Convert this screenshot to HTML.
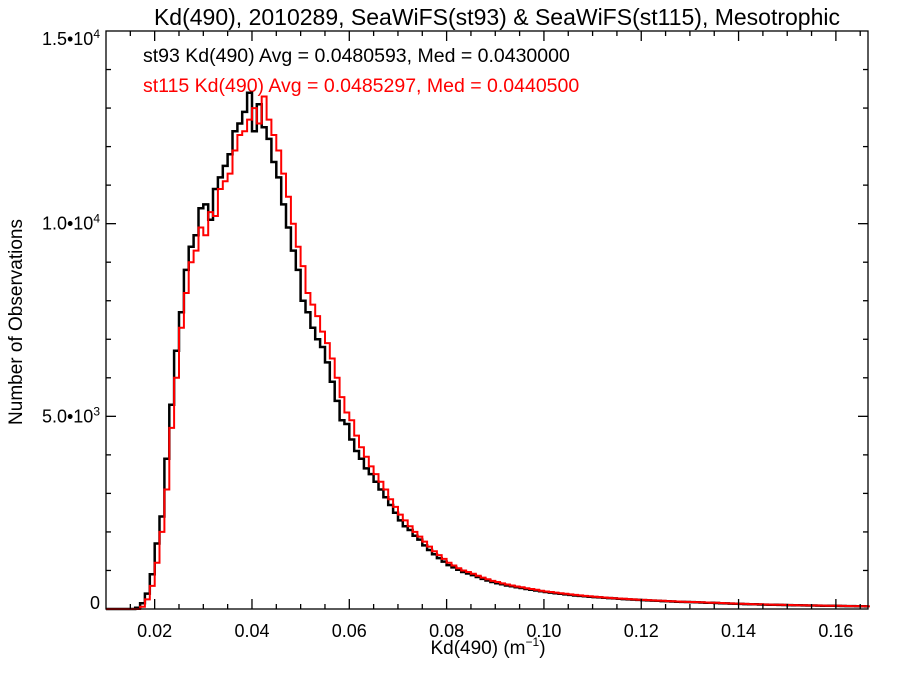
<!DOCTYPE html>
<html><head><meta charset="utf-8">
<style>
html,body{margin:0;padding:0;background:#fff;}
svg{display:block;font-family:"Liberation Sans",Helvetica,Arial,sans-serif;}
</style></head>
<body>
<svg id="chart" width="900" height="675" viewBox="0 0 900 675" xmlns="http://www.w3.org/2000/svg">
<text x="497" y="25" font-size="23" text-anchor="middle" fill="#000">Kd(490), 2010289, SeaWiFS(st93) &amp; SeaWiFS(st115), Mesotrophic</text>
<text x="143" y="62" font-size="19.5" fill="#000">st93 Kd(490) Avg = 0.0480593, Med = 0.0430000</text>
<text x="143" y="92" font-size="19.5" fill="#ff0000">st115 Kd(490) Avg = 0.0485297, Med = 0.0440500</text>
<text x="488" y="654" font-size="19" text-anchor="middle" fill="#000">Kd(490) (m<tspan font-size="12" dy="-8">−1</tspan><tspan dy="8">)</tspan></text>
<text transform="translate(22,322) rotate(-90)" font-size="19" text-anchor="middle" fill="#000">Number of Observations</text>
<g id="marks"></g>
<g id="axes"></g>
</svg>
<script>
const binStart = 0.010;
const binWidth = 0.001;
const st93Counts = [0,0,0,0,0,0,30,150,400,900,1700,2400,3900,5300,6700,7700,8800,9400,9700,10400,10500,10100,10900,11200,11500,11800,12400,12600,12900,13400,12400,13100,12500,12200,11600,11200,10500,9900,9300,8800,8000,7700,7300,7000,6800,6400,5900,5400,4900,4800,4400,4100,3900,3650,3500,3300,3100,2900,2700,2500,2300,2150,2050,1900,1800,1650,1530,1420,1320,1230,1140,1080,1020,960,920,880,830,780,740,700,670,640,610,590,565,545,520,500,480,460,440,425,410,395,380,365,350,340,330,320,310,300,290,282,274,266,258,250,243,236,230,224,218,212,206,200,195,190,185,182,178,173,168,164,160,155,150,145,141,136,132,128,125,122,118,115,112,109,106,103,100,98,96,94,92,90,88,86,84,82,80,78,76,74,72,70,68];
const st115Counts = [0,0,0,0,0,0,0,60,250,600,1200,2000,3100,4700,6000,7300,8200,9000,9300,9900,9700,10300,10200,10900,11100,11300,11900,12300,12400,12700,13000,12600,13300,12700,12300,11900,11300,10700,10000,9400,8900,8200,7900,7600,7200,6900,6500,6000,5500,5100,4900,4500,4200,3950,3700,3500,3300,3100,2850,2650,2450,2300,2150,2000,1880,1750,1620,1500,1400,1300,1200,1130,1060,1000,960,915,865,815,770,730,700,665,635,610,585,565,540,520,500,475,455,440,425,410,395,380,365,352,340,330,318,308,298,288,280,272,264,256,248,242,236,230,224,218,212,206,200,195,190,185,182,178,173,168,164,160,155,150,145,141,136,132,128,125,122,118,115,112,109,106,103,100,98,96,94,92,90,88,86,84,82,80,78,76,74,72,70,68];
const xTickValues = [0.02,0.04,0.06,0.08,0.10,0.12,0.14,0.16];
const xTickLabels = ["0.02","0.04","0.06","0.08","0.10","0.12","0.14","0.16"];
const yTickValues = [0,5000,10000,15000];
const yTickMant = ["0","5.0","1.0","1.5"];
const yTickExp = ["","3","4","4"];

const L=106, R=868, T=31, B=609;
const xMin=0.010, xMax=0.1666, yMax=15000;
const X = v => L + (v-xMin)/(xMax-xMin)*(R-L);
const Y = v => B - v/yMax*(B-T);
const NS="http://www.w3.org/2000/svg";
const marks=document.getElementById('marks');
const axes=document.getElementById('axes');

function stepPath(arr){
  let d="M"+X(binStart).toFixed(1)+","+Y(0).toFixed(1);
  for(let i=0;i<arr.length;i++){
    const x0=Math.max(xMin,binStart+i*binWidth), x1=Math.min(xMax,binStart+(i+1)*binWidth);
    d+=" L"+X(x0).toFixed(1)+","+Y(arr[i]).toFixed(1)+" L"+X(x1).toFixed(1)+","+Y(arr[i]).toFixed(1);
  }
  return d;
}
const p1=document.createElementNS(NS,'path');


p1.setAttribute('d',stepPath(st93Counts));p1.setAttribute('fill','none');p1.setAttribute('stroke','#000');p1.setAttribute('stroke-width','2.5');
marks.appendChild(p1);
const p2=document.createElementNS(NS,'path');


p2.setAttribute('d',stepPath(st115Counts));p2.setAttribute('fill','none');p2.setAttribute('stroke','#ff0000');p2.setAttribute('stroke-width','2');
marks.appendChild(p2);

function line(x1,y1,x2,y2){const l=document.createElementNS(NS,'line');
l.setAttribute('x1',x1);l.setAttribute('y1',y1);l.setAttribute('x2',x2);l.setAttribute('y2',y2);
l.setAttribute('stroke','#000');l.setAttribute('stroke-width','1.3');axes.appendChild(l);return l;}
const frame=document.createElementNS(NS,'rect');


frame.setAttribute('x',L);frame.setAttribute('y',T);frame.setAttribute('width',R-L);frame.setAttribute('height',B-T);
frame.setAttribute('fill','none');frame.setAttribute('stroke','#000');frame.setAttribute('stroke-width','1.3');
axes.appendChild(frame);
for(let k=3;k<=33;k++){const v=k*0.005;if(v>xMax)break;const x=X(v);const major=(k%4===0);const len=major?10:5;
  line(x,B,x,B-len);line(x,T,x,T+len);}
xTickValues.forEach((v,i)=>{const t=document.createElementNS(NS,'text');


t.setAttribute('x',X(v));t.setAttribute('y',B+28);t.setAttribute('font-size','18');t.setAttribute('text-anchor','middle');
t.textContent=xTickLabels[i];axes.appendChild(t);});
for(let v=1000;v<yMax;v+=1000){const y=Y(v);const major=(v%5000===0);const len=major?10:5;
  line(L,y,L+len,y);line(R,y,R-len,y);}
yTickValues.forEach((v,i)=>{const t=document.createElementNS(NS,'text');


t.setAttribute('x',100);t.setAttribute('y',Math.min(Y(v)+6,B));t.setAttribute('font-size','18');t.setAttribute('text-anchor','end');
if(yTickExp[i]){t.innerHTML=yTickMant[i]+"•10<tspan font-size='12' dy='-7'>"+yTickExp[i]+"</tspan>";if(v===yMax)t.setAttribute('y',Y(v)+14);}
else t.textContent=yTickMant[i];
axes.appendChild(t);});
</script>
</body></html>
